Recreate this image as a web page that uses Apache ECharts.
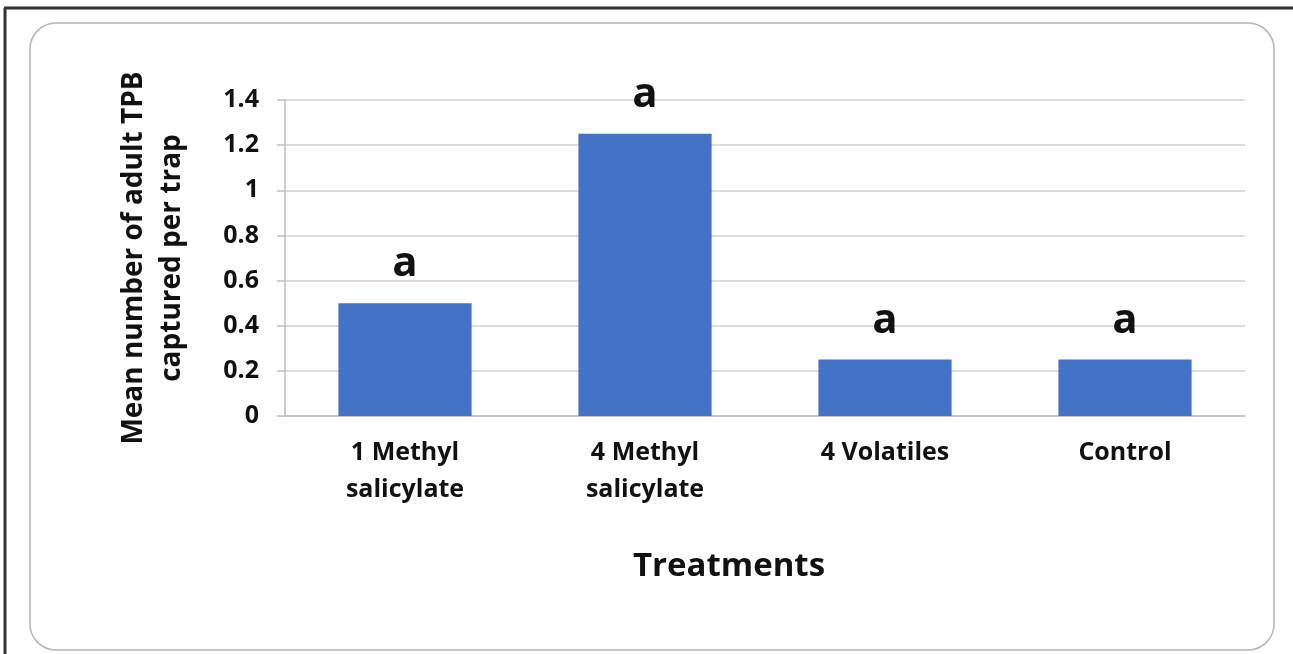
<!DOCTYPE html>
<html>
<head>
<meta charset="utf-8">
<script src="https://cdn.jsdelivr.net/npm/echarts@6/dist/echarts.min.js"></script>
<style>
  html, body { margin: 0; padding: 0; background: #fff; }
  #chart { width: 1293px; height: 654px; }
</style>
</head>
<body>
<div id="chart"></div>
<script>
// data
const categories = ['1 Methyl\nsalicylate', '4 Methyl\nsalicylate', '4 Volatiles', 'Control']
const meanCaptured = [0.5, 1.25, 0.25, 0.25]
const letters = ['a', 'a', 'a', 'a']

const chart = echarts.init(document.getElementById('chart'))
const font = '"Open Sans", Lato, sans-serif'

const option = {
  animation: false,
  backgroundColor: '#fff',
  graphic: [
    // outer frame (top + left)
    { type: 'line', shape: { x1: 4, y1: 8, x2: 1293, y2: 8 }, style: { stroke: '#333', lineWidth: 3 } },
    { type: 'line', shape: { x1: 5, y1: 8, x2: 5, y2: 654 }, style: { stroke: '#333', lineWidth: 3 } },
    // rounded chart area
    {
      type: 'rect',
      shape: { x: 30, y: 23, width: 1244, height: 627, r: 26 },
      style: { fill: 'none', stroke: '#b5b5b5', lineWidth: 1.5 },
      z: -1
    }
  ],
  grid: { left: 285, right: 48, top: 100, bottom: 238 },
  xAxis: {
    type: 'category',
    data: categories,
    axisLine: { lineStyle: { color: '#bdbdbd', width: 1.5 } },
    axisTick: { show: false },
    axisLabel: {
      color: '#111',
      fontFamily: font,
      fontWeight: 'bold',
      fontSize: 25,
      lineHeight: 37,
      margin: 18
    },
    name: 'Treatments',
    nameLocation: 'middle',
    nameGap: 134,
    nameTextStyle: {
      color: '#111',
      fontFamily: font,
      fontWeight: 'bold',
      fontSize: 33,
      padding: [0, 72, 0, 0]
    }
  },
  yAxis: {
    type: 'value',
    min: 0,
    max: 1.4,
    interval: 0.2,
    axisLine: { show: true, lineStyle: { color: '#bdbdbd', width: 1.5 } },
    axisTick: { show: true, length: 8, lineStyle: { color: '#bdbdbd', width: 1.5 } },
    splitLine: { lineStyle: { color: '#d0d0d0', width: 1.5 } },
    axisLabel: {
      color: '#111',
      fontFamily: font,
      fontWeight: 'bold',
      fontSize: 25,
      margin: 26,
      formatter: v => String(Math.round(v * 10) / 10)
    },
    name: 'Mean number of adult TPB\ncaptured per trap',
    nameLocation: 'middle',
    nameGap: 94,
    nameTextStyle: {
      color: '#111',
      fontFamily: font,
      fontWeight: 'bold',
      fontSize: 28,
      lineHeight: 38
    }
  },
  series: [
    {
      type: 'bar',
      data: meanCaptured,
      barWidth: '55.5%',
      itemStyle: { color: '#4472c4' },
      label: {
        show: true,
        position: 'top',
        distance: 18,
        color: '#111',
        fontFamily: font,
        fontWeight: 'bold',
        fontSize: 42,
        formatter: p => letters[p.dataIndex]
      }
    }
  ]
}

chart.setOption(option)
</script>
</body>
</html>
